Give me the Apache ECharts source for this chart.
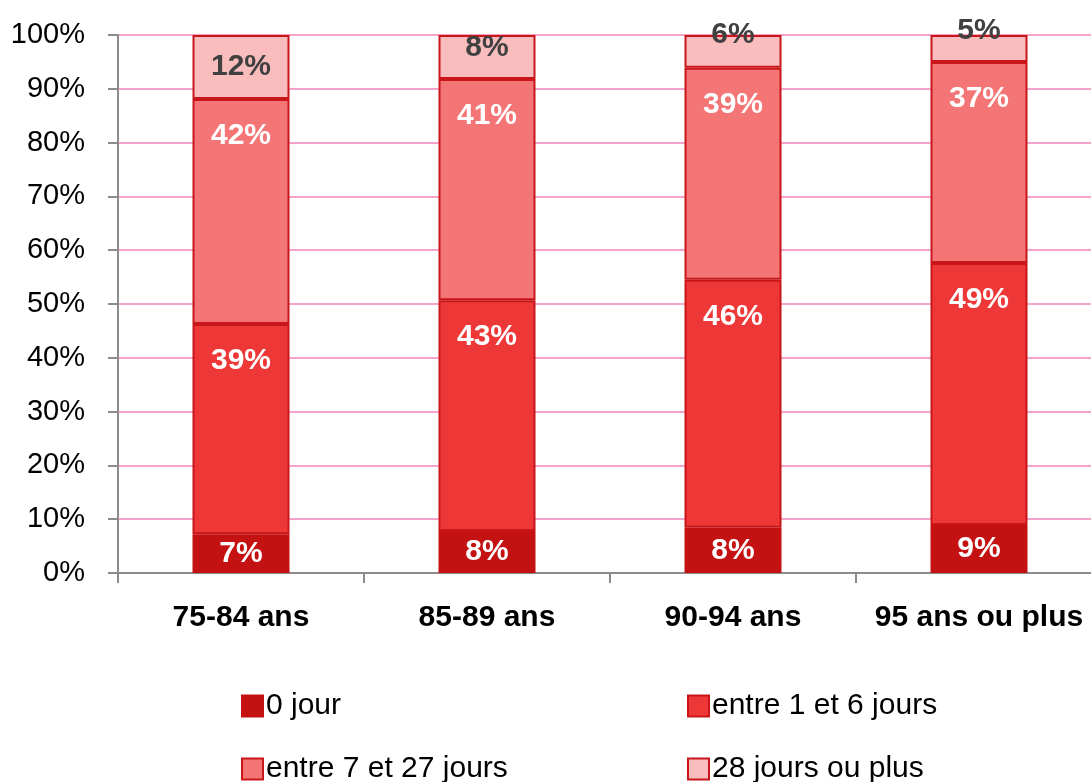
<!DOCTYPE html>
<html>
<head>
<meta charset="utf-8">
<script src="https://cdn.jsdelivr.net/npm/echarts@6/dist/echarts.min.js"></script>
<style>
html,body{margin:0;padding:0;background:#fff;}
#chart{width:1091px;height:782px;}
</style>
</head>
<body>
<div id="chart"></div>
<script>
const categories = ['75-84 ans', '85-89 ans', '90-94 ans', '95 ans ou plus'];
const seriesNames = ['0 jour', 'entre 1 et 6 jours', 'entre 7 et 27 jours', '28 jours ou plus'];
const zeroJour = [7.2, 7.8, 8.4, 8.9];
const unASix = [39.1, 42.9, 46.1, 48.7];
const septA27 = [41.8, 41.1, 39.4, 37.4];
const plus28 = [11.9, 8.2, 6.1, 5.0];
const yTicks = [0, 10, 20, 30, 40, 50, 60, 70, 80, 90, 100];

const FONT = "'Liberation Sans Narrow', 'Arial Narrow', 'Liberation Sans', Arial, sans-serif";
const colors = ['#C41212', '#EE3838', '#F47575', '#F9BDBD'];
const border = '#C8161B';
const topLabelOffsets = [0, -9, -17, -18];

const fmt = p => Math.round(p.value) + '%';

function mkSeries(name, data, idx) {
  const s = {
    name: name,
    type: 'bar',
    stack: 'total',
    data: data,
    barWidth: 97,
    itemStyle: { color: colors[idx], borderColor: idx === 0 ? colors[0] : border, borderWidth: 2 },
    label: {
      show: true,
      formatter: fmt,
      fontFamily: FONT,
      fontWeight: 'bold',
      fontSize: 30,
      color: idx === 3 ? '#404040' : '#ffffff',
      position: (idx === 1 || idx === 2) ? 'insideTop' : 'inside',
      distance: 22
    }
  };
  if (idx === 3) {
    s.data = data.map((v, i) => ({ value: v, label: { offset: [0, topLabelOffsets[i]] } }));
  }
  return s;
}

function mkLegend(name, left, top) {
  return {
    data: [name],
    left: left, top: top,
    itemWidth: 21, itemHeight: 21, icon: 'rect', itemGap: 0,
    textStyle: { fontFamily: FONT, fontSize: 30, color: '#000', padding: [0, 0, 0, -2] }
  };
}

const chart = echarts.init(document.getElementById('chart'));
chart.setOption({
  animation: false,
  backgroundColor: '#ffffff',
  grid: { left: 118, width: 984, top: 35, height: 538, containLabel: false, outerBoundsMode: 'none' },
  xAxis: {
    type: 'category',
    data: categories,
    axisLine: { lineStyle: { color: '#8c8c8c', width: 2 } },
    axisTick: { show: true, length: 10, lineStyle: { color: '#8c8c8c', width: 2 } },
    axisLabel: { interval: 0, fontFamily: FONT, fontWeight: 'bold', fontSize: 30, color: '#000', margin: 30 }
  },
  yAxis: {
    type: 'value',
    min: 0, max: 100, interval: 10,
    axisLine: { show: true, lineStyle: { color: '#8c8c8c', width: 2 } },
    axisTick: { show: true, length: 10, lineStyle: { color: '#8c8c8c', width: 2 } },
    axisLabel: {
      fontFamily: FONT, fontSize: 29, color: '#000', margin: 33,
      formatter: v => yTicks.includes(v) ? v + '%' : ''
    },
    splitLine: { show: true, lineStyle: { color: '#F5A3CB', width: 2 } }
  },
  legend: [
    mkLegend(seriesNames[0], 236, 686),
    mkLegend(seriesNames[2], 236, 749),
    mkLegend(seriesNames[1], 682, 686),
    mkLegend(seriesNames[3], 682, 749)
  ],
  series: [
    mkSeries(seriesNames[0], zeroJour, 0),
    mkSeries(seriesNames[1], unASix, 1),
    mkSeries(seriesNames[2], septA27, 2),
    mkSeries(seriesNames[3], plus28, 3)
  ]
});
</script>
</body>
</html>
